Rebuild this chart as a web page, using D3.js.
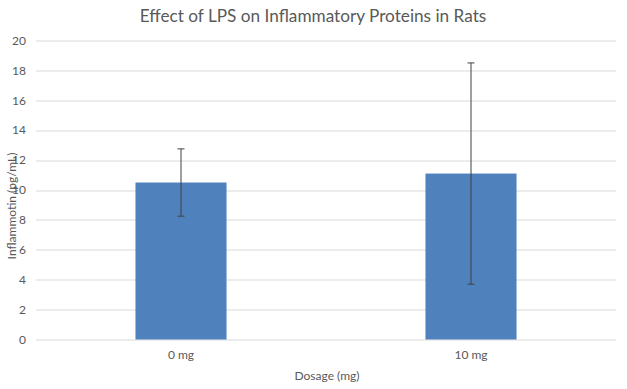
<!DOCTYPE html>
<html>
<head>
<meta charset="utf-8">
<script src="https://cdn.jsdelivr.net/npm/d3@7"></script>
<style>
  body { margin: 0; background: #fff; }
  text { font-family: Lato, "Open Sans", sans-serif; fill: #595959; }
</style>
</head>
<body>
<svg class="chart"></svg>
<script>
// chart data
var categories = ["0 mg", "10 mg"];
var means = [10.5, 11.1];
var errors = [2.25, 7.4];
var yTicks = [0, 2, 4, 6, 8, 10, 12, 14, 16, 18, 20];

var width = 627, height = 389;
var margin = { top: 40.5, right: 11, bottom: 49.5, left: 36 };
var innerW = width - margin.left - margin.right,
    innerH = height - margin.top - margin.bottom;

var svg = d3.select("svg.chart")
    .attr("width", width)
    .attr("height", height);

var g = svg.append("g")
    .attr("transform", "translate(" + margin.left + "," + margin.top + ")");

var x = d3.scaleBand().domain(categories).range([0, innerW]).paddingInner(0.686).paddingOuter(0.343);
var y = d3.scaleLinear().domain([0, 20]).range([innerH, 0]);

// gridlines
g.selectAll("line.grid")
    .data(yTicks)
    .enter().append("line")
    .attr("x1", 0)
    .attr("x2", innerW)
    .attr("y1", (d) => Math.round(y(d)) + 0.5)
    .attr("y2", (d) => Math.round(y(d)) + 0.5)
    .attr("stroke", "#d9d9d9")
    .attr("stroke-width", 1);

// y tick labels
g.selectAll("text.ytick")
    .data(yTicks)
    .enter().append("text")
    .attr("x", -10)
    .attr("y", (d) => y(d))
    .attr("dy", "0.35em")
    .attr("text-anchor", "end")
    .style("font-size", "12px")
    .text((d) => d);

// bars
g.selectAll("rect.bar")
    .data(means)
    .enter().append("rect")
    .attr("x", (d, i) => x(categories[i]))
    .attr("width", x.bandwidth())
    .attr("y", (d) => y(d))
    .attr("height", (d) => innerH - y(d))
    .attr("fill", "#4f81bd");

// error bars
var eb = g.selectAll("g.err")
    .data(means)
    .enter().append("g")
    .attr("stroke", "#404040")
    .attr("stroke-width", 1);

eb.append("line")
    .attr("x1", (d, i) => x(categories[i]) + x.bandwidth() / 2)
    .attr("x2", (d, i) => x(categories[i]) + x.bandwidth() / 2)
    .attr("y1", (d, i) => y(d + errors[i]))
    .attr("y2", (d, i) => y(d - errors[i]));

[1, -1].forEach(function (s) {
    eb.append("line")
        .attr("x1", (d, i) => x(categories[i]) + x.bandwidth() / 2 - 3.5)
        .attr("x2", (d, i) => x(categories[i]) + x.bandwidth() / 2 + 3.5)
        .attr("y1", (d, i) => y(d + s * errors[i]))
        .attr("y2", (d, i) => y(d + s * errors[i]));
});

// x tick labels
g.selectAll("text.xtick")
    .data(categories)
    .enter().append("text")
    .attr("x", (d) => x(d) + x.bandwidth() / 2)
    .attr("y", innerH + 19)
    .attr("text-anchor", "middle")
    .style("font-size", "12px")
    .text((d) => d);

// title
svg.append("text")
    .attr("x", 313)
    .attr("y", 22)
    .attr("text-anchor", "middle")
    .style("font-size", "17.2px")
    .text("Effect of LPS on Inflammatory Proteins in Rats");

// axis titles
svg.append("text")
    .attr("x", 327)
    .attr("y", 380)
    .attr("text-anchor", "middle")
    .style("font-size", "12px")
    .text("Dosage (mg)");

svg.append("text")
    .attr("transform", "translate(16,206) rotate(-90)")
    .attr("text-anchor", "middle")
    .style("font-size", "12px")
    .text("Inflammotin (pg/mL)");
</script>
</body>
</html>
